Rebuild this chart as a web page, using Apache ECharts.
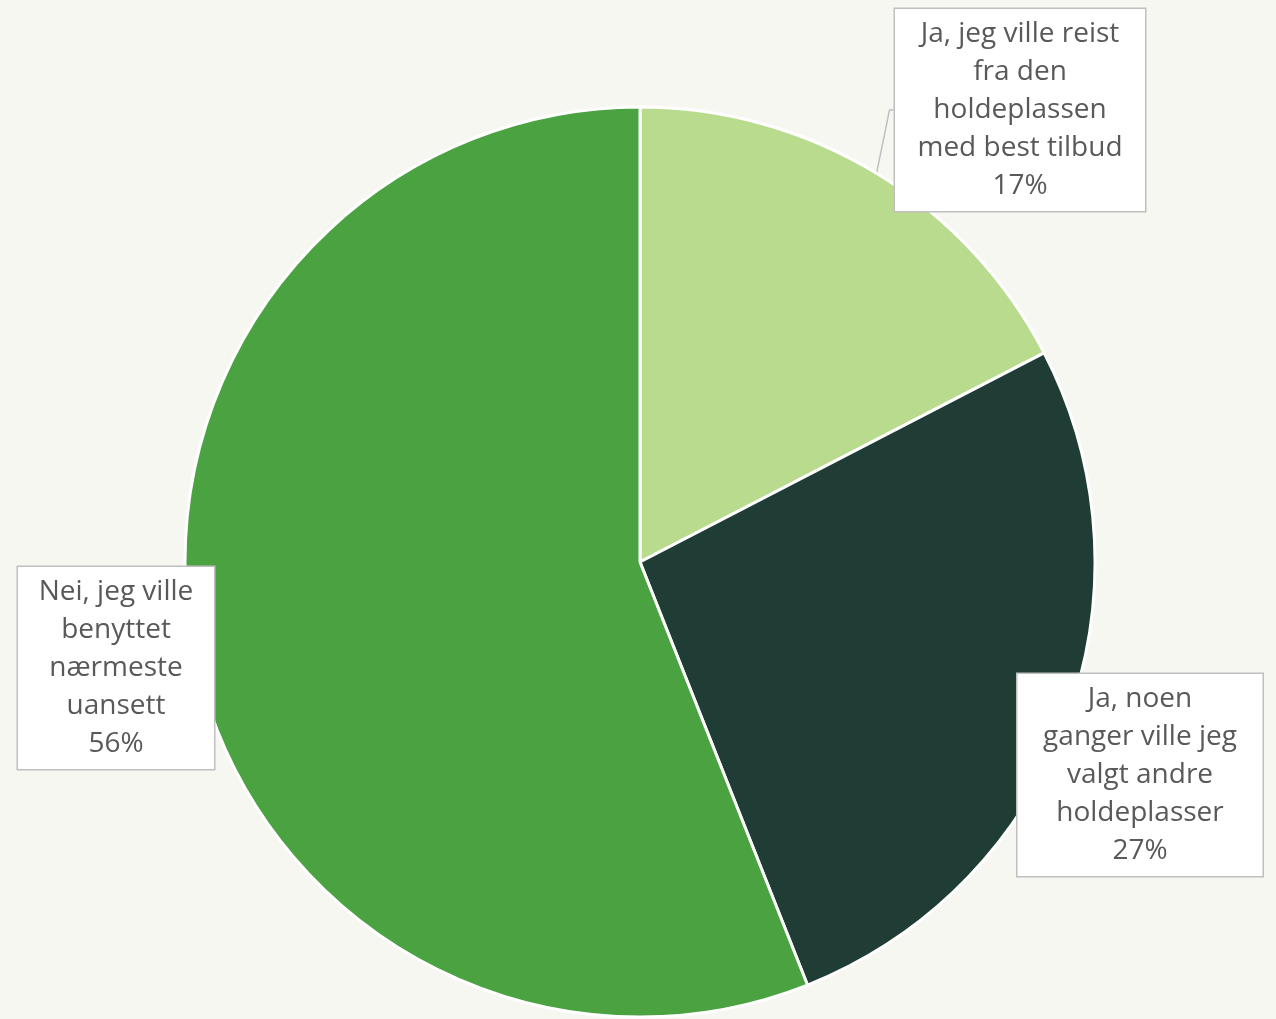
<!DOCTYPE html>
<html>
<head>
<meta charset="utf-8">
<script src="https://cdn.jsdelivr.net/npm/echarts@6/dist/echarts.min.js"></script>
<style>
  html, body { margin: 0; padding: 0; background: #f7f7f2; }
  #chart { width: 1276px; height: 1019px; }
</style>
</head>
<body>
<div id="chart"></div>
<script>
// svar-kategorier (med linjeskift som i figuren)
const categories = [
  'Ja, jeg ville reist\nfra den\nholdeplassen\nmed best tilbud',
  'Ja, noen\nganger ville jeg\nvalgt andre\nholdeplasser',
  'Nei, jeg ville\nbenyttet\nnærmeste\nuansett'
]
const shares = [17.4, 26.6, 56.0]
const colors = ['#b8db8e', '#1f3d34', '#4aa240']

// hvor boksene står (midtpunkt) og hvor brede de er
const labelPos = [
  { x: 1020, y: 110, w: 230 },
  { x: 1140, y: 775, w: 225 },
  { x: 116, y: 668, w: 176 }
]

const chart = echarts.init(document.getElementById('chart'))

const option = {
  backgroundColor: '#f7f7f2',
  animation: false,
  series: [
    {
      type: 'pie',
      center: [640, 562],
      radius: [0, 455],
      startAngle: 90,
      clockwise: true,
      itemStyle: {
        borderColor: '#ffffff',
        borderWidth: 3
      },
      label: {
        show: true,
        position: 'outside',
        formatter: p => p.name + '\n' + Math.round(p.percent) + '%',
        fontFamily: 'Open Sans',
        fontSize: 28,
        lineHeight: 38,
        color: '#595959',
        align: 'center',
        overflow: 'none',
        backgroundColor: '#ffffff',
        borderColor: '#bfbfbf',
        borderWidth: 1.5,
        padding: [6, 10, 6, 10]
      },
      labelLine: {
        show: true,
        length: 10,
        length2: 4,
        lineStyle: { color: '#bfbfbf', width: 1.5 }
      },
      labelLayout: params => ({
        x: labelPos[params.dataIndex].x,
        y: labelPos[params.dataIndex].y,
        align: 'center',
        verticalAlign: 'middle'
      }),
      data: categories.map((c, i) => ({
        name: c,
        value: shares[i],
        itemStyle: { color: colors[i] },
        label: { width: labelPos[i].w },
        labelLine: { show: i === 0 }
      }))
    }
  ]
}

chart.setOption(option)
</script>
</body>
</html>
